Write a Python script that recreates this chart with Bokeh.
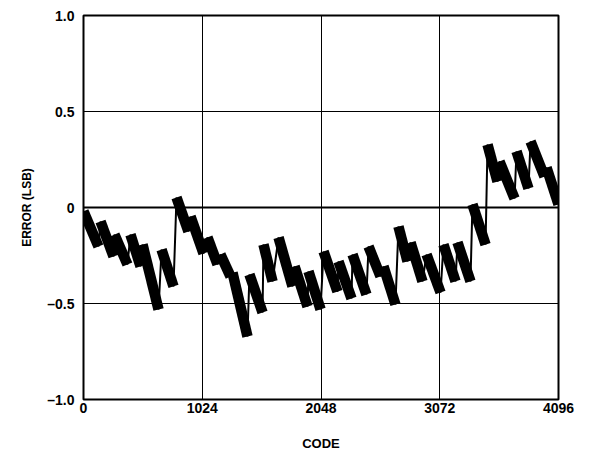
from bokeh.plotting import figure
from bokeh.models import Range1d, Span, FixedTicker
from bokeh.embed import file_html
from bokeh.resources import INLINE

# Sawtooth INL data: each ramp runs from a peak down to a trough
peak_code = [0, 147, 267, 405, 509, 673,
             802, 923, 1069, 1181, 1285, 1431, 1552, 1682, 1820, 1940, 2070, 2199, 2320, 2458, 2587,
             2716, 2820, 2958, 3104, 3225, 3354,
             3484, 3587, 3734, 3855, 3993]
peak_err = [-0.02, -0.073, -0.141, -0.141, -0.193, -0.219,
            0.052, -0.047, -0.156, -0.245, -0.339, -0.349, -0.193, -0.156, -0.307, -0.333, -0.229, -0.281, -0.245, -0.203, -0.307,
            -0.099, -0.182, -0.245, -0.193, -0.182, 0.016,
            0.328, 0.240, 0.292, 0.344, 0.208]
trough_code = [129, 259, 379, 492, 647, 776,
               905, 1035, 1156, 1268, 1414, 1544, 1630, 1802, 1932, 2044, 2190, 2311, 2440, 2561, 2690,
               2794, 2923, 3079, 3208, 3337, 3467,
               3570, 3717, 3837, 3975, 4096]
trough_err = [-0.203, -0.255, -0.297, -0.307, -0.531, -0.411,
              -0.125, -0.240, -0.297, -0.359, -0.672, -0.547, -0.385, -0.411, -0.516, -0.531, -0.438, -0.474, -0.453, -0.359, -0.505,
              -0.281, -0.385, -0.443, -0.385, -0.385, -0.193,
              0.135, 0.047, 0.099, 0.161, 0.016]

x_ticks = [0, 1024, 2048, 3072, 4096]
y_ticks = [-1.0, -0.5, 0.0, 0.5, 1.0]
y_tick_labels = ["\u20131.0", "\u20130.5", "0", "0.5", "1.0"]

FONT = "Liberation Sans"

p = figure(frame_width=475, frame_height=384, output_backend="svg", toolbar_location=None,
           x_range=Range1d(0, 4096), y_range=Range1d(-1, 1),
           min_border_left=83, min_border_top=15, min_border_right=25, min_border_bottom=5)
p.background_fill_color = "white"
p.border_fill_color = "white"
p.outline_line_color = "black"
p.outline_line_width = 2

for ax in (p.xaxis[0], p.yaxis[0]):
    ax.axis_line_color = None
    ax.major_tick_line_color = None
    ax.minor_tick_line_color = None
    ax.major_tick_out = 0
    ax.major_tick_in = 0
    ax.major_label_text_font = FONT
    ax.major_label_text_font_style = "bold"
    ax.major_label_text_font_size = "14px"
    ax.major_label_text_color = "black"
    ax.axis_label_text_font = FONT
    ax.axis_label_text_font_style = "bold"
    ax.axis_label_text_color = "black"

p.xaxis.ticker = FixedTicker(ticks=x_ticks)
p.yaxis.ticker = FixedTicker(ticks=y_ticks)
p.yaxis.major_label_overrides = {t: l for t, l in zip(y_ticks, y_tick_labels)}
p.xaxis.major_label_overrides = {t: str(t) for t in x_ticks}
p.xaxis.major_label_standoff = 3
p.yaxis.major_label_standoff = 9

p.xaxis.axis_label = "CODE"
p.xaxis.axis_label_text_font_size = "13px"
p.xaxis.axis_label_standoff = 20

p.yaxis.axis_label = "ERROR (LSB)"
p.yaxis.axis_label_text_font_size = "12px"
p.yaxis.axis_label_standoff = 10

p.xgrid.ticker = FixedTicker(ticks=x_ticks[1:-1])
p.ygrid.ticker = FixedTicker(ticks=[-0.5, 0.5])
p.xgrid.grid_line_color = "black"
p.ygrid.grid_line_color = "black"
p.xgrid.grid_line_width = 1
p.ygrid.grid_line_width = 1

p.add_layout(Span(location=0, dimension="width", line_color="black", line_width=2))

# thin connecting trace (jumps)
xs, ys = [], []
for pc, pe, tc, te in zip(peak_code, peak_err, trough_code, trough_err):
    xs += [pc, tc]
    ys += [pe, te]
p.line(xs, ys, line_color="black", line_width=2)

# thick noisy ramps
p.segment(x0=peak_code, y0=peak_err, x1=trough_code, y1=trough_err,
          line_color="black", line_width=10.5, line_cap="butt")

open("out.html", "w").write(file_html(p, INLINE))
